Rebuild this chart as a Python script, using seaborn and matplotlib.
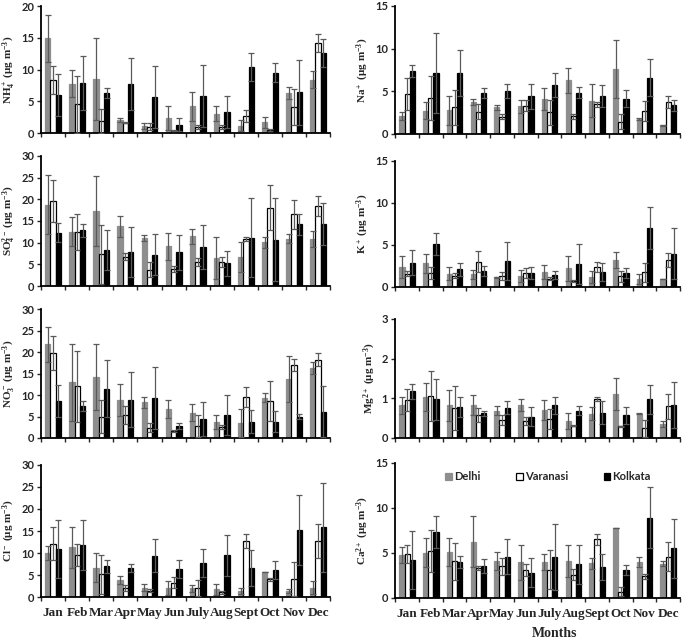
import numpy as np
import pandas as pd
import seaborn as sns
import matplotlib
matplotlib.use("Agg")
import matplotlib.pyplot as plt

months = ["Jan", "Feb", "Mar", "Apr", "May", "Jun", "July", "Aug", "Sept", "Oct", "Nov", "Dec"]
cities = ["Delhi", "Varanasi", "Kolkata"]

# mean values, rows = Delhi, Varanasi, Kolkata
nh4_mean = [[14.9, 7.8, 8.5, 2.0, 1.1, 2.4, 4.2, 3.05, 1.15, 1.7, 6.3, 8.4],
            [8.4, 4.5, 1.9, 1.6, 0.95, 0.35, 0.9, 0.95, 2.7, 0.45, 4.1, 14.2],
            [6.0, 7.9, 6.3, 7.7, 5.7, 1.3, 5.8, 3.3, 10.4, 9.5, 6.4, 12.6]]
nh4_sd = [[3.7, 2.2, 6.5, 0.3, 0.5, 1.9, 2.3, 1.15, 0.85, 0.9, 1.0, 1.3],
          [2.2, 4.5, 1.9, 0.1, 0.55, 0.05, 0.3, 0.35, 0.9, 0.15, 2.9, 1.4],
          [3.3, 4.3, 0.8, 4.1, 4.9, 1.0, 4.9, 2.5, 2.2, 1.5, 5.1, 2.2]]

na_mean = [[2.1, 2.7, 2.8, 3.75, 3.1, 3.25, 4.1, 6.3, 3.9, 7.6, 1.75, 1.0],
           [4.65, 4.2, 3.1, 2.6, 2.0, 3.3, 2.55, 2.05, 3.45, 1.45, 2.7, 3.7],
           [7.35, 7.1, 7.1, 4.8, 5.0, 4.4, 5.7, 4.85, 4.4, 4.15, 6.6, 3.35]]
na_sd = [[0.45, 1.0, 1.7, 0.4, 0.3, 0.75, 1.25, 1.45, 1.9, 3.4, 0.15, 0.05],
         [1.85, 2.6, 2.1, 0.9, 0.3, 0.65, 1.45, 0.25, 0.25, 0.85, 1.2, 0.7],
         [0.7, 4.7, 2.7, 0.55, 0.8, 1.5, 1.4, 0.6, 1.3, 1.0, 2.2, 0.65]]

so4_mean = [[18.7, 12.5, 17.3, 13.8, 11.0, 9.2, 11.5, 6.4, 6.7, 10.1, 10.9, 10.8],
            [19.6, 12.4, 7.3, 6.8, 3.8, 3.9, 5.6, 5.5, 10.8, 18.1, 16.5, 18.5],
            [12.3, 12.8, 8.3, 7.9, 7.2, 7.8, 9.0, 5.2, 11.1, 10.7, 14.2, 14.3]]
so4_sd = [[6.8, 3.3, 8.1, 2.4, 0.7, 3.1, 1.7, 4.8, 3.5, 1.3, 1.0, 1.9],
          [4.9, 4.2, 6.8, 0.9, 1.8, 0.6, 0.9, 1.2, 0.5, 5.1, 3.3, 2.3],
          [2.2, 1.5, 4.7, 5.8, 4.7, 4.0, 5.1, 2.9, 9.1, 9.5, 2.4, 4.9]]

k_mean = [[2.4, 2.8, 1.6, 1.5, 1.15, 1.3, 1.75, 2.2, 1.2, 3.15, 0.9, 0.95],
          [1.6, 1.7, 1.35, 3.0, 1.3, 1.65, 1.0, 0.7, 2.4, 1.25, 1.75, 3.2],
          [2.9, 5.1, 2.1, 1.85, 3.1, 1.65, 1.4, 2.7, 1.8, 1.65, 7.0, 3.95]]
k_sd = [[1.3, 1.1, 0.75, 0.5, 0.05, 0.7, 0.85, 1.45, 0.75, 0.95, 0.6, 0.05],
        [0.25, 0.7, 0.3, 1.25, 0.45, 0.6, 0.15, 0.1, 0.6, 0.6, 1.1, 0.85],
        [1.45, 1.35, 0.75, 0.6, 2.25, 0.75, 0.45, 2.4, 1.1, 0.55, 2.45, 3.05]]

no3_mean = [[21.8, 13.0, 14.3, 8.9, 8.3, 6.8, 5.9, 3.8, 3.5, 9.4, 13.8, 16.4],
            [19.8, 12.0, 5.0, 5.4, 2.4, 1.65, 2.8, 2.6, 9.5, 8.6, 16.9, 18.2],
            [8.6, 7.4, 11.5, 8.9, 9.4, 2.7, 4.4, 5.3, 3.8, 3.8, 5.0, 6.1]]
no3_sd = [[4.1, 9.0, 7.7, 3.7, 1.3, 2.1, 2.0, 1.6, 3.3, 1.0, 5.4, 1.4],
          [3.9, 8.3, 3.9, 2.1, 1.0, 0.15, 2.5, 0.5, 2.3, 4.6, 1.4, 1.5],
          [3.7, 1.2, 6.6, 6.4, 7.2, 0.7, 3.9, 4.7, 2.7, 2.4, 0.6, 5.9]]

mg_mean = [[0.82, 1.03, 0.82, 0.83, 0.69, 0.82, 0.71, 0.43, 0.61, 1.1, 0.61, 0.36],
           [0.96, 1.06, 0.75, 0.57, 0.45, 0.43, 0.48, 0.31, 0.98, 0.29, 0.24, 0.8],
           [1.18, 0.97, 0.78, 0.62, 0.76, 0.54, 0.82, 0.69, 0.64, 0.57, 0.97, 0.84]]
mg_sd = [[0.21, 0.36, 0.39, 0.25, 0.11, 0.15, 0.25, 0.21, 0.16, 0.4, 0.01, 0.08],
         [0.27, 0.63, 0.55, 0.18, 0.13, 0.11, 0.26, 0.02, 0.04, 0.01, 0.21, 0.31],
         [0.19, 0.52, 0.25, 0.07, 0.16, 0.23, 0.22, 0.11, 0.28, 0.22, 0.36, 0.58]]

cl_mean = [[10.0, 11.3, 6.7, 3.8, 2.1, 2.1, 2.0, 1.75, 1.4, 5.6, 1.4, 2.1],
           [12.1, 9.6, 5.2, 2.0, 1.45, 3.3, 2.0, 1.1, 12.8, 4.0, 4.1, 12.8],
           [11.0, 11.9, 7.0, 6.6, 9.4, 6.3, 7.7, 9.5, 6.6, 6.1, 15.2, 15.8]]
cl_sd = [[1.7, 4.6, 3.3, 0.9, 0.8, 1.6, 0.8, 1.25, 0.6, 0.0, 0.4, 1.5],
         [3.7, 2.5, 4.4, 0.7, 0.35, 1.3, 1.8, 0.3, 1.6, 0.4, 3.9, 3.9],
         [6.6, 5.7, 1.5, 1.0, 3.8, 2.0, 3.1, 4.7, 4.0, 2.1, 7.9, 10.1]]

ca_mean = [[4.75, 5.0, 5.1, 6.25, 4.1, 3.95, 3.95, 4.1, 3.85, 7.8, 4.0, 3.8],
           [4.9, 5.2, 4.1, 3.3, 3.5, 3.1, 3.15, 2.6, 6.5, 0.7, 2.4, 4.6],
           [4.25, 7.3, 4.0, 3.55, 4.6, 2.8, 4.55, 3.75, 3.4, 3.1, 8.9, 5.5]]
ca_sd = [[0.85, 1.6, 1.55, 2.85, 0.95, 1.95, 0.9, 1.75, 0.6, 0.0, 0.55, 0.3],
         [1.0, 2.35, 2.05, 0.25, 0.9, 0.7, 2.2, 0.65, 0.65, 0.5, 0.3, 1.6],
         [3.2, 1.8, 0.65, 0.75, 1.9, 1.6, 3.65, 2.15, 1.45, 0.6, 3.4, 3.25]]

sns.set_style("ticks")
plt.rcParams["mathtext.fontset"] = "custom"
plt.rcParams["mathtext.rm"] = "Liberation Serif:bold"
plt.rcParams["mathtext.it"] = "Liberation Serif:bold"
plt.rcParams["mathtext.bf"] = "Liberation Serif:bold"

serif = "Liberation Serif"
sans = "Lato"

colors = {"Delhi": "#8e8e8e", "Varanasi": "white", "Kolkata": "black"}
edges = {"Delhi": "#8e8e8e", "Varanasi": "black", "Kolkata": "black"}

fig = plt.figure(figsize=(6.85, 6.41), dpi=100)

# (mean, sd, ylabel, ymax, yticks, axes rect)
panels = [
    (nh4_mean, nh4_sd, r"NH$_4^+$ (μg m$^{-3}$)", 20, [0, 5, 10, 15, 20], [0.060, 0.7925, 0.422, 0.198]),
    (na_mean, na_sd, r"Na$^+$ (μg m$^{-3}$)", 15, [0, 5, 10, 15], [0.577, 0.7910, 0.416, 0.200]),
    (so4_mean, so4_sd, r"SO$_4^{2-}$ (μg m$^{-3}$)", 30, [0, 5, 10, 15, 20, 25, 30], [0.060, 0.5538, 0.422, 0.203]),
    (k_mean, k_sd, r"K$^+$ (μg m$^{-3}$)", 15, [0, 5, 10, 15], [0.577, 0.5523, 0.416, 0.197]),
    (no3_mean, no3_sd, r"NO$_3^-$ (μg m$^{-3}$)", 30, [0, 5, 10, 15, 20, 25, 30], [0.060, 0.3167, 0.422, 0.201]),
    (mg_mean, mg_sd, r"Mg$^{2+}$ (μg m$^{-3}$)", 3, [0, 1, 2, 3], [0.577, 0.3167, 0.416, 0.186]),
    (cl_mean, cl_sd, r"Cl$^-$ (μg m$^{-3}$)", 30, [0, 5, 10, 15, 20, 25, 30], [0.060, 0.0686, 0.422, 0.206]),
    (ca_mean, ca_sd, r"Ca$^{2+}$ (μg m$^{-3}$)", 15, [0, 5, 10, 15], [0.577, 0.0671, 0.416, 0.211]),
]

for i, (mean, sd, ylab, ymax, yt, rect) in enumerate(panels):
    ax = fig.add_axes(rect)
    df = pd.DataFrame({
        "month": np.tile(months, 3),
        "city": np.repeat(cities, 12),
        "value": np.concatenate(mean),
    })
    sns.barplot(data=df, x="month", y="value", hue="city", order=months,
                hue_order=cities, palette=colors, saturation=1, width=0.66,
                errorbar=None, legend=(i == 7), ax=ax, linewidth=0.9)

    bar_conts = list(ax.containers)
    for c, cont in enumerate(bar_conts):
        city = cities[c]
        xs, ys = [], []
        for bar in cont:
            bar.set_edgecolor(edges[city])
            xs.append(bar.get_x() + bar.get_width() / 2)
            ys.append(bar.get_height())
        ax.errorbar(xs, ys, yerr=sd[c], fmt="none", ecolor="#5a5a5a",
                    elinewidth=0.9, capsize=2, capthick=0.9, zorder=3)

    ax.set_xlim(-0.5, 11.5)
    ax.set_ylim(0, ymax)
    ax.set_yticks(yt)
    ax.set_yticklabels([str(t) for t in yt], fontfamily=sans, fontweight="bold", fontsize=8)
    ax.set_xticks(np.arange(-0.5, 12, 1), minor=False)
    ax.set_xticklabels([])
    ax.set_xticks(np.arange(12), minor=True)
    ax.tick_params(axis="x", which="major", direction="out", length=3, width=1)
    ax.tick_params(axis="x", which="minor", length=0, pad=7)
    ax.tick_params(axis="y", direction="out", length=3, width=1, pad=2)
    if i >= 6:
        ax.set_xticklabels(months, minor=True, fontfamily=serif, fontweight="bold", fontsize=9.5)
    else:
        ax.set_xticklabels([], minor=True)
    ax.set_xlabel("")
    ax.set_ylabel(ylab, fontfamily=serif, fontweight="bold", fontsize=8, labelpad=3)
    for s in ["top", "right"]:
        ax.spines[s].set_visible(False)
    for s in ["left", "bottom"]:
        ax.spines[s].set_linewidth(1.3)
        ax.spines[s].set_color("black")

    if i == 7:
        leg = ax.legend(loc="upper left", bbox_to_anchor=(0.14, 1.01), ncol=3,
                        frameon=False, handlelength=0.6, handleheight=0.6,
                        columnspacing=3.2, handletextpad=0.2,
                        prop={"family": sans, "weight": "bold", "size": 8})
        for h, city in zip(leg.legend_handles, cities):
            h.set_edgecolor(edges[city])

fig.text(0.81, 0.006, "Months", fontfamily=serif, fontweight="bold", fontsize=10, ha="center")

fig.savefig("out.png", dpi=100)
